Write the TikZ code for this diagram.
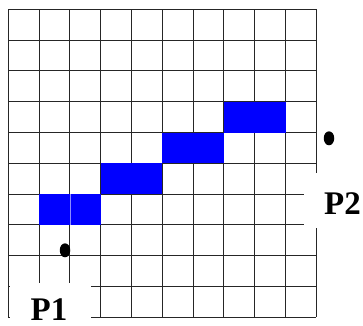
\documentclass[tikz,border=0pt]{standalone}
\usepackage{fontspec}
\setmainfont{Liberation Serif}
\usetikzlibrary{shapes.geometric}
\begin{document}
\begin{tikzpicture}[x=1bp,y=-1bp,
  gridline/.style={draw=black!85,line width=0.9bp},
  cellfill/.style={fill=blue},
  pdot/.style={ellipse,fill=black,inner sep=0pt,minimum width=10.5bp,minimum height=14bp},
  plabel/.style={font=\fontsize{33bp}{33bp}\selectfont\bfseries,inner sep=0pt},
  mask/.style={fill=white}]
\useasboundingbox[fill=white] (0,0) rectangle (363,326);
% grid
\foreach \i in {0,...,10} {
  \draw[gridline] ({8.3+30.8*\i},9.3) -- ({8.3+30.8*\i},317.3);
  \draw[gridline] (8.3,{9.3+30.8*\i}) -- (316.3,{9.3+30.8*\i});
}
% blue cells
\fill[cellfill] (223.9,101.7) rectangle (285.5,132.5);
\fill[cellfill] (162.3,132.5) rectangle (223.9,163.3);
\fill[cellfill] (100.7,163.3) rectangle (162.3,194.1);
\fill[cellfill] (39.1,194.1) rectangle (100.7,224.9);
\draw[blue!45!white,line width=0.8bp] (69.9,194.1) -- (69.9,224.9);
% white masks behind labels
\fill[mask] (9.5,283) rectangle (90.8,326);
\fill[mask] (303.5,173.3) rectangle (363,228.3);
% points
\node[pdot] (d1) at (65,250.3) {};
\node[pdot] (d2) at (329,138.3) {};
% labels
\node[plabel] (p1) at (49,309.5) {P1};
\node[plabel] (p2) at (342.5,203.5) {P2};
\end{tikzpicture}
\end{document}
